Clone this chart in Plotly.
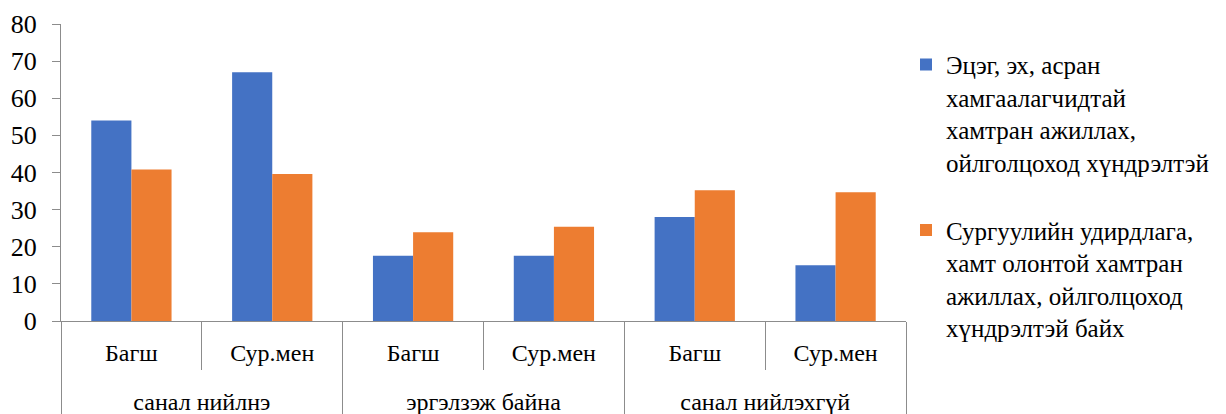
import plotly.graph_objects as go

groups = ["<br>санал нийлнэ", "<br>санал нийлнэ", "<br>эргэлзэж байна", "<br>эргэлзэж байна", "<br>санал нийлэхгүй", "<br>санал нийлэхгүй"]
subcats = ["Багш", "Сур.мен", "Багш", "Сур.мен", "Багш", "Сур.мен"]
series1_name = "Эцэг, эх, асран<br>хамгаалагчидтай<br>хамтран ажиллах,<br>ойлголцоход хүндрэлтэй<br> "
series2_name = "Сургуулийн удирдлага,<br>хамт олонтой хамтран<br>ажиллах, ойлголцоход<br>хүндрэлтэй байх"
series1 = [54.0, 67.0, 17.6, 17.6, 28.0, 15.0]
series2 = [40.8, 39.6, 23.9, 25.4, 35.2, 34.7]
y_ticks = [0, 10, 20, 30, 40, 50, 60, 70, 80]

FONT = "Liberation Serif"
AXIS = "#8c8c8c"

fig = go.Figure()
fig.add_trace(go.Bar(x=[groups, subcats], y=series1, name=series1_name,
                     marker=dict(color="#4472C4", line=dict(width=0))))
fig.add_trace(go.Bar(x=[groups, subcats], y=series2, name=series2_name,
                     marker=dict(color="#ED7D31", line=dict(width=0))))

fig.update_layout(
    template="none",
    width=1226, height=414,
    margin=dict(l=53, r=328, t=16, b=101, autoexpand=False),
    paper_bgcolor="white", plot_bgcolor="white",
    font=dict(family=FONT, size=25, color="black"),
    barmode="group", bargap=0.43, bargroupgap=0,
    showlegend=True,
    legend=dict(x=1.0, y=0.94, xanchor="left", yanchor="top",
                font=dict(family=FONT, size=25, color="black"),
                valign="top", itemsizing="constant", itemwidth=30, tracegroupgap=0,
                maxheight=400, bgcolor="rgba(0,0,0,0)"),
)
fig.update_yaxes(range=[0, 80], tickvals=y_ticks, showgrid=False, zeroline=False,
                 automargin=False,
                 showline=True, linecolor=AXIS, linewidth=1.3,
                 ticks="outside", ticklen=8, tickcolor=AXIS, tickwidth=1.3,
                 ticklabelstandoff=10,
                 tickfont=dict(family=FONT, size=26, color="black"))
fig.update_xaxes(type="multicategory", showgrid=False, showline=True,
                 automargin=False,
                 linecolor=AXIS, linewidth=1.3,
                 ticks="outside", ticklen=48, tickcolor=AXIS, tickwidth=1.3,
                 ticklabelstandoff=10,
                 showdividers=True, dividercolor=AXIS, dividerwidth=1.3,
                 tickfont=dict(family=FONT, size=24, color="black"))

fig.write_html("out.html")
